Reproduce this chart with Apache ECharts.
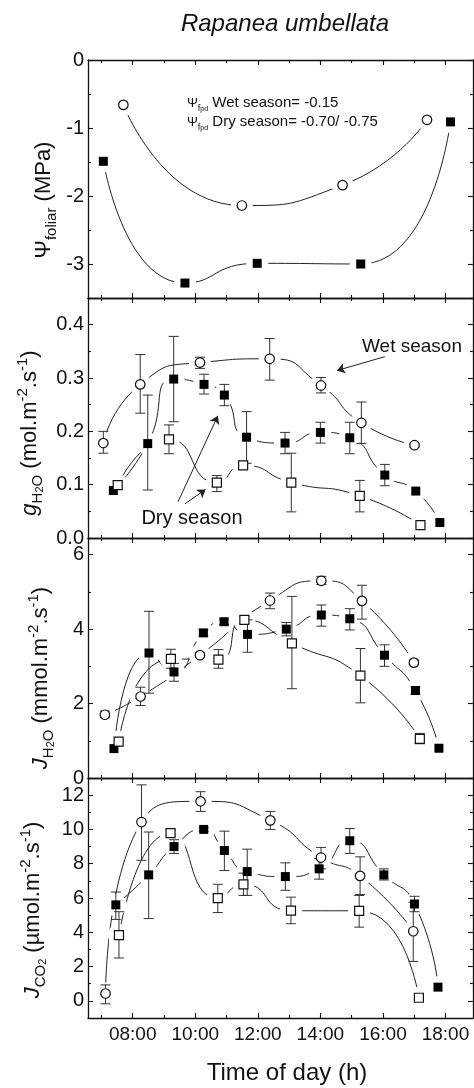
<!DOCTYPE html>
<html>
<head>
<meta charset="utf-8">
<script src="https://cdn.jsdelivr.net/npm/echarts@6/dist/echarts.min.js"></script>
<style>
  html, body { margin: 0; padding: 0; background: #fff; }
  #chart { width: 474px; height: 1088px; }
</style>
</head>
<body>
<div id="chart"></div>
<script>
// tick labels
const hourTicks = [8, 10, 12, 14, 16, 18];
const hourMinor = [7, 9, 11, 13, 15, 17];
const psiTicks = [-3, -2, -1, 0];
const psiMinor = [-3.5, -2.5, -1.5, -0.5];
const gTicks = [0, 0.1, 0.2, 0.3, 0.4];
const gMinor = [0.05, 0.15, 0.25, 0.35];
const eTicks = [0, 2, 4, 6];
const eMinor = [1, 3, 5];
const cTicks = [0, 2, 4, 6, 8, 10, 12];
const cMinor = [1, 3, 5, 7, 9, 11];

// leaf water potential (MPa)
const psiWetT = [7.70, 11.49, 14.71, 17.41];
const psiWet = [-0.66, -2.14, -1.84, -0.88];
const psiDryT = [7.06, 9.67, 11.98, 15.29, 18.16];
const psiDry = [-1.49, -3.28, -2.99, -3.00, -0.91];

// stomatal conductance g_H2O
const gWetT = [7.06, 8.24, 10.15, 12.38, 14.02, 15.31, 17.01];
const gWet = [0.178, 0.288, 0.329, 0.336, 0.286, 0.216, 0.174];
const gWetLo = [0.159, 0.234, 0.318, 0.296, 0.272, 0.177, 0.170];
const gWetHi = [0.200, 0.344, 0.339, 0.374, 0.301, 0.255, 0.178];
const gDry1T = [7.38, 8.48, 9.31, 10.28, 10.93, 11.64, 12.87, 14.00, 14.94, 16.06, 17.05, 17.82];
const gDry1 = [0.089, 0.177, 0.298, 0.288, 0.268, 0.189, 0.178, 0.198, 0.188, 0.118, 0.088, 0.029];
const gDry1Lo = [null, 0.090, 0.218, 0.270, 0.248, 0.140, 0.158, 0.178, 0.158, 0.098, null, null];
const gDry1Hi = [null, 0.268, 0.378, 0.307, 0.288, 0.237, 0.198, 0.217, 0.217, 0.138, null, null];
const gDry2T = [7.52, 9.16, 10.69, 11.53, 13.07, 15.26, 17.20];
const gDry2 = [0.099, 0.185, 0.104, 0.136, 0.104, 0.079, 0.024];
const gDry2Lo = [null, 0.158, 0.087, 0.132, 0.049, 0.049, 0.021];
const gDry2Hi = [null, 0.212, 0.117, 0.140, 0.159, 0.108, 0.027];

// transpiration J_H2O
const eWetT = [7.11, 8.25, 10.15, 12.39, 14.03, 15.33, 16.99];
const eWet = [1.70, 2.19, 3.30, 4.77, 5.30, 4.76, 3.10];
const eWetLo = [1.62, 1.95, 3.25, 4.55, 5.20, 4.27, 3.05];
const eWetHi = [1.80, 2.44, 3.36, 4.97, 5.42, 5.18, 3.17];
const eDry1T = [7.40, 8.52, 9.32, 10.26, 10.92, 11.67, 12.91, 14.03, 14.94, 16.05, 17.04, 17.79];
const eDry1 = [0.79, 3.36, 2.85, 3.90, 4.20, 3.86, 4.00, 4.38, 4.28, 3.30, 2.35, 0.80];
const eDry1Lo = [null, 2.28, 2.60, 3.82, 4.12, 3.38, 3.82, 4.08, 3.98, 3.00, 2.25, null];
const eDry1Hi = [null, 4.48, 3.08, 3.98, 4.28, 4.25, 4.18, 4.65, 4.55, 3.58, 2.45, null];
const eDry2T = [7.55, 9.22, 10.74, 11.57, 13.09, 15.28, 17.18];
const eDry2 = [0.98, 3.20, 3.18, 4.25, 3.62, 2.75, 1.05];
const eDry2Lo = [null, 2.95, 2.95, 4.15, 2.40, 2.02, 0.92];
const eDry2Hi = [null, 3.46, 3.45, 4.35, 4.88, 3.48, 1.20];

// assimilation J_CO2
const cWetT = [7.13, 8.28, 10.17, 12.40, 14.02, 15.27, 16.97];
const cWet = [0.43, 10.43, 11.64, 10.53, 8.36, 7.29, 4.06];
const cWetLo = [-0.17, 8.2, 11.05, 10.0, 7.7, 6.2, 2.3];
const cWetHi = [0.93, 12.6, 12.2, 11.05, 8.95, 8.4, 5.75];
const cDry1T = [7.46, 8.51, 9.32, 10.27, 10.93, 11.66, 12.88, 13.96, 14.94, 16.03, 17.01, 17.76];
const cDry1 = [5.6, 7.35, 9.0, 10.0, 8.77, 7.54, 7.25, 7.7, 9.34, 7.35, 5.65, 0.8];
const cDry1Lo = [4.75, 4.8, 8.6, 9.9, 7.6, 6.15, 6.45, 7.1, 8.6, 7.05, 5.2, null];
const cDry1Hi = [6.35, 9.85, 9.4, 10.1, 9.9, 8.85, 8.05, 8.3, 10.05, 7.7, 6.1, null];
const cDry2T = [7.56, 9.21, 10.72, 11.54, 13.06, 15.24, 17.15];
const cDry2 = [3.84, 9.79, 5.99, 6.80, 5.26, 5.25, 0.18];
const cDry2Lo = [2.5, 9.65, 5.15, 6.15, 4.5, 4.3, 0.05];
const cDry2Hi = [5.2, 9.95, 6.8, 7.45, 6.05, 6.15, 0.35];

const FONT = '"Liberation Sans", Arial, sans-serif';
const INK = '#111';
const X_MIN = 6.57, X_MAX = 18.88;

const panels = [
  {top: 60, height: 238, min: -3.5, max: 0, major: psiTicks, minor: psiMinor, dec: 0},
  {top: 298, height: 240, min: 0, max: 0.45, major: gTicks, minor: gMinor, dec: 1},
  {top: 538, height: 240, min: 0, max: 6.45, major: eTicks, minor: eMinor, dec: 0},
  {top: 778, height: 240, min: -1, max: 13, major: cTicks, minor: cMinor, dec: 0}
];

const grids = [], xAxes = [], yAxes = [];
panels.forEach((p, i) => {
  [true, false].forEach(isMajor => {
    const gi = grids.length;
    grids.push({left: 88, right: 1, top: p.top, height: p.height});
    ['bottom', 'top'].forEach(pos => {
      xAxes.push({
        type: 'value', gridIndex: gi, position: pos, min: X_MIN, max: X_MAX,
        splitLine: {show: false},
        axisLine: {show: isMajor, onZero: false, lineStyle: {color: INK, width: 1.3}},
        axisTick: {inside: true, length: isMajor ? 5 : 3, customValues: isMajor ? hourTicks : hourMinor,
          lineStyle: {color: INK, width: 1.1}},
        axisLabel: {show: isMajor && pos === 'bottom' && i === 3, customValues: hourTicks,
          formatter: v => (v < 10 ? '0' : '') + v + ':00',
          fontSize: 19, color: INK, fontFamily: FONT, margin: 7}
      });
    });
    ['left', 'right'].forEach(pos => {
      yAxes.push({
        type: 'value', gridIndex: gi, position: pos, min: p.min, max: p.max,
        splitLine: {show: false},
        axisLine: {show: isMajor, onZero: false, lineStyle: {color: INK, width: 1.3}},
        axisTick: {inside: true, length: isMajor ? 5 : 3, customValues: isMajor ? p.major : p.minor,
          lineStyle: {color: INK, width: 1.1}},
        axisLabel: {show: isMajor && pos === 'left', customValues: p.major,
          formatter: v => v.toFixed(p.dec),
          fontSize: 20, color: INK, fontFamily: FONT, margin: 4}
      });
    });
  });
});

const marks = {
  wet: {symbol: 'circle', symbolSize: 9.5, itemStyle: {color: '#fff', borderColor: INK, borderWidth: 1.2, opacity: 1}},
  dry1: {symbol: 'rect', symbolSize: 9, itemStyle: {color: '#000', opacity: 1}},
  dry2: {symbol: 'rect', symbolSize: 9, itemStyle: {color: '#fff', borderColor: INK, borderWidth: 1.2, opacity: 1}}
};

function errBar(params, api) {
  const x = api.value(0);
  const a = api.coord([x, api.value(1)]);
  const b = api.coord([x, api.value(2)]);
  const w = 5;
  const st = {stroke: '#333', lineWidth: 1, fill: null};
  return {type: 'group', children: [
    {type: 'line', shape: {x1: a[0], y1: a[1], x2: b[0], y2: b[1]}, style: st},
    {type: 'line', shape: {x1: a[0] - w, y1: a[1], x2: a[0] + w, y2: a[1]}, style: st},
    {type: 'line', shape: {x1: b[0] - w, y1: b[1], x2: b[0] + w, y2: b[1]}, style: st}
  ]};
}

const series = [];
function addSet(p, t, v, lo, hi, kind, extra) {
  const ax = {xAxisIndex: 4 * p, yAxisIndex: 4 * p};
  const pts = t.map((h, i) => [h, v[i]]);
  series.push(Object.assign({type: 'line', data: pts, smooth: 0.6, showSymbol: false, silent: true,
    lineStyle: {color: '#222', width: 1}, z: 2}, ax, extra || {}));
  // white halo so the curve stops short of each marker
  series.push(Object.assign({type: 'scatter', data: pts, symbol: 'circle', symbolSize: 22, silent: true,
    itemStyle: {color: '#fff', opacity: 1}, z: 3}, ax));
  if (lo) {
    const bars = [];
    t.forEach((h, i) => { if (lo[i] != null) bars.push([h, lo[i], hi[i]]); });
    series.push(Object.assign({type: 'custom', renderItem: errBar, data: bars, silent: true,
      encode: {x: 0, y: [1, 2]}, z: 4}, ax));
  }
  series.push(Object.assign({type: 'scatter', data: pts, silent: true, z: 5}, marks[kind], ax));
}

const arrowWet = [[16.06, 0.340], [14.53, 0.314]];
const arrowDryA = [[9.45, 0.068], [10.72, 0.229]];
const arrowDryB = [[9.67, 0.064], [10.33, 0.091]];
const arrowLines = {
  silent: true, symbol: ['none', 'arrow'], symbolSize: 8, animation: false,
  lineStyle: {color: '#222', width: 1, type: 'solid'}, label: {show: false},
  data: [arrowWet, arrowDryA, arrowDryB].map(a => [{coord: a[0]}, {coord: a[1]}])
};

addSet(0, psiWetT, psiWet, null, null, 'wet');
addSet(0, psiDryT, psiDry, null, null, 'dry1');
addSet(1, gWetT, gWet, gWetLo, gWetHi, 'wet', {markLine: arrowLines});
addSet(1, gDry1T, gDry1, gDry1Lo, gDry1Hi, 'dry1');
addSet(1, gDry2T, gDry2, gDry2Lo, gDry2Hi, 'dry2');
addSet(2, eWetT, eWet, eWetLo, eWetHi, 'wet');
addSet(2, eDry1T, eDry1, eDry1Lo, eDry1Hi, 'dry1');
addSet(2, eDry2T, eDry2, eDry2Lo, eDry2Hi, 'dry2');
addSet(3, cWetT, cWet, cWetLo, cWetHi, 'wet');
addSet(3, cDry1T, cDry1, cDry1Lo, cDry1Hi, 'dry1');
addSet(3, cDry2T, cDry2, cDry2Lo, cDry2Hi, 'dry2');

const labRich = {
  n: {fontSize: 22, fontFamily: FONT, lineHeight: 30, fill: INK},
  i: {fontSize: 22, fontFamily: FONT, fontStyle: 'italic', lineHeight: 30, fill: INK},
  s: {fontSize: 15, fontFamily: FONT, lineHeight: 14, verticalAlign: 'bottom', fill: INK},
  ss: {fontSize: 11, fontFamily: FONT, lineHeight: 9, verticalAlign: 'bottom', fill: INK},
  p: {fontSize: 15, fontFamily: FONT, lineHeight: 20, verticalAlign: 'top', fill: INK}
};
function yName(x, y, text) {
  return {type: 'text', x: x, y: y, rotation: Math.PI / 2, silent: true,
    style: {text: text, rich: labRich, textAlign: 'center', textVerticalAlign: 'middle',
      fontSize: 22, fontFamily: FONT, fill: INK}};
}
const noteRich = {
  a: {fontSize: 13, fontFamily: FONT, lineHeight: 20, fill: INK},
  b: {fontSize: 9, fontFamily: FONT, lineHeight: 9, verticalAlign: 'bottom', fill: INK},
  c: {fontSize: 7, fontFamily: FONT, lineHeight: 5, verticalAlign: 'bottom', fill: INK},
  t: {fontSize: 15, fontFamily: FONT, lineHeight: 20, fill: INK}
};
function note(x, y, text) {
  return {type: 'text', x: x, y: y, silent: true,
    style: {text: text, rich: noteRich, textAlign: 'left', textVerticalAlign: 'middle', fill: INK}};
}
function plain(x, y, text, size, style) {
  return {type: 'text', x: x, y: y, silent: true,
    style: {text: text, textAlign: 'center', textVerticalAlign: 'middle',
      font: (style || '') + ' ' + size + 'px ' + FONT, fill: INK}};
}

const chart = echarts.init(document.getElementById('chart'), null, {renderer: 'canvas'});
chart.setOption({
  animation: false,
  backgroundColor: '#fff',
  textStyle: {fontFamily: FONT},
  grid: grids,
  xAxis: xAxes,
  yAxis: yAxes,
  series: series,
  graphic: [
    plain(285, 24, 'Rapanea umbellata', 24, 'italic'),
    plain(287, 1073, 'Time of day (h)', 24),
    plain(412, 347, 'Wet season', 19),
    plain(192, 518, 'Dry season', 20),
    note(187, 103, '{a|Ψ}{b|f}{c|pd}{t| Wet season= -0.15}'),
    note(187, 122, '{a|Ψ}{b|f}{c|pd}{t| Dry season= -0.70/ -0.75}'),
    yName(44, 200, '{n|Ψ}{s|foliar}{n| (MPa)}'),
    yName(30, 433, '{i|g}{s|H}{ss|2}{s|O}{n| (mol.m}{p|-2}{n|.s}{p|-1}{n|)}'),
    yName(41, 678, '{i|J}{s|H}{ss|2}{s|O}{n| (mmol.m}{p|-2}{n|.s}{p|-1}{n|)}'),
    yName(33, 910, '{i|J}{s|CO}{ss|2}{n| (µmol.m}{p|-2}{n|.s}{p|-1}{n|)}')
  ]
});
</script>
</body>
</html>
